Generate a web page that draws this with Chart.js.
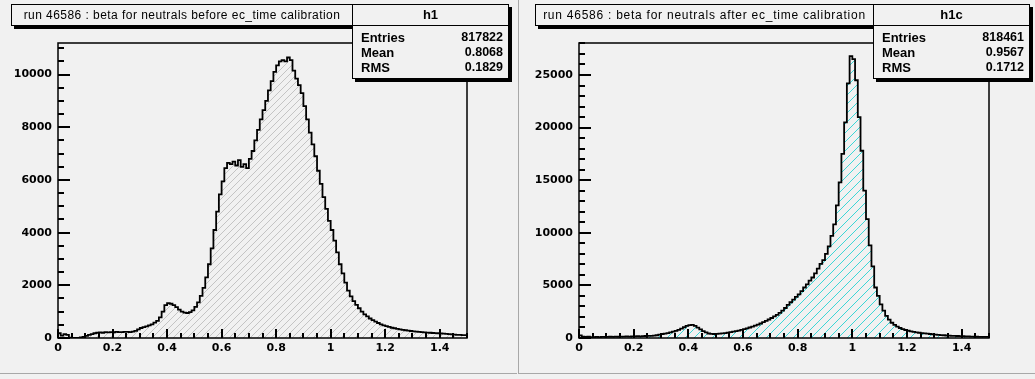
<!DOCTYPE html>
<html>
<head>
<meta charset="utf-8">
<script src="https://cdn.jsdelivr.net/npm/chart.js@4.4.1/dist/chart.umd.min.js"></script>
<style>
body { margin:0; background:#fff; }
#page { position:relative; width:1035px; height:379px; background:#f1f1f1; overflow:hidden; font-family:"Liberation Sans", Arial, sans-serif; }
.pad { position:absolute; top:0; height:373px; border-bottom:1px solid #a8a8a8; }
.pad canvas { position:absolute; left:0; top:0; }
.title { position:absolute; top:4px; height:20px; border:1px solid #000; background:#f1f1f1; box-shadow:3px 3px 0 #000; font-size:12px; letter-spacing:0.45px; line-height:20px; text-align:center; white-space:nowrap; }
.stats { position:absolute; top:4px; border:1px solid #000; background:#f1f1f1; box-shadow:3px 3px 0 #000; font-weight:bold; z-index:2; padding-bottom:3px; }
.stats .hd { height:20px; line-height:20px; font-size:13px; text-align:center; border-bottom:1px solid #000; margin-bottom:4px; }
.stats .row { height:15px; line-height:15px; padding:0 5px 0 8px; display:flex; justify-content:space-between; }
.stats .row span:first-child { font-size:13px; }
.stats .row span:last-child { font-size:12.5px; }
</style>
</head>
<body>
<div id="page">
  <div class="pad" id="padL" style="left:0;width:517px;">
    <canvas id="c1" width="517" height="379"></canvas>
    <div class="title" style="left:11px;width:340px;">run 46586 : beta for neutrals before ec_time calibration</div>
    <div class="stats" style="left:352px;width:155px;">
      <div class="hd">h1</div>
      <div class="row"><span>Entries</span><span>817822</span></div>
      <div class="row"><span>Mean</span><span>0.8068</span></div>
      <div class="row"><span>RMS</span><span>0.1829</span></div>
    </div>
  </div>
  <div class="pad" id="padR" style="left:518px;width:516px;border-left:1px solid #a8a8a8;">
    <canvas id="c2" width="516" height="379"></canvas>
    <div class="title" style="left:16px;width:337px;letter-spacing:0.75px;">run 46586 : beta for neutrals after ec_time calibration</div>
    <div class="stats" style="left:354px;width:155px;">
      <div class="hd">h1c</div>
      <div class="row"><span>Entries</span><span>818461</span></div>
      <div class="row"><span>Mean</span><span>0.9567</span></div>
      <div class="row"><span>RMS</span><span>0.1712</span></div>
    </div>
  </div>
</div>
<script>
// binning of both histograms: 150 bins of 0.01 from 0 to 1.5
var nBins = 150, xLow = 0, xHigh = 1.5;

// h1 : beta before ec_time calibration (counts per bin)
var before = [
  60, 180, 90, 150, 120,   10, 5, 0, 5, 20,
  40, 80, 120, 150, 180,   200, 210, 200, 220, 210,
  220, 215, 230, 225, 220,   230, 235, 225, 240, 270,
  330, 380, 410, 440, 480,   520, 580, 650, 780, 1000,
  1250, 1320, 1300, 1250, 1170,   1080, 1000, 960, 950, 980,
  1050, 1180, 1350, 1600, 1900,   2300, 2800, 3400, 4100, 4800,
  5450, 5950, 6450, 6650, 6600,   6700, 6550, 6750, 6500, 6600,
  6450, 6800, 7100, 7500, 7900,   8300, 8650, 9000, 9400, 9750,
  10100, 10350, 10500, 10550, 10500,   10650, 10550, 10150, 9850, 9600,
  9300, 8800, 8300, 7800, 7350,   6900, 6350, 5850, 5350, 4900,
  4450, 4100, 3700, 3250, 2800,   2450, 2100, 1800, 1580, 1400,
  1260, 1130, 1000, 900, 820,   740, 680, 620, 570, 520,
  480, 450, 420, 390, 370,   350, 330, 310, 295, 280,
  265, 255, 245, 235, 225,   215, 205, 200, 190, 185,
  180, 170, 165, 160, 150,   140, 130, 120, 115, 110
];

// h1c : beta after ec_time calibration
var after = [
  150, 250, 120, 100, 130,   90, 80, 100, 90, 110,
  100, 110, 120, 100, 130,   120, 140, 130, 150, 140,
  150, 160, 170, 160, 180,   190, 200, 210, 230, 260,
  330, 380, 420, 470, 530,   600, 680, 780, 900, 1020,
  1150, 1230, 1250, 1150, 980,   820, 660, 530, 430, 390,
  380, 390, 410, 440, 470,   510, 560, 600, 650, 710,
  770, 840, 920, 1000, 1080,   1170, 1270, 1380, 1500, 1620,
  1760, 1900, 2050, 2200, 2380,   2600, 2850, 3150, 3400, 3650,
  3900, 4150, 4450, 4800, 5100,   5450, 5750, 6150, 6600, 7050,
  7400, 8000, 8700, 9700, 10800,   12600, 14800, 17500, 20500, 24200,
  26800, 26500, 24500, 21000, 17800,   14000, 11300, 8800, 6800, 4800,
  4000, 3200, 2600, 2100, 1750,   1450, 1250, 1080, 950, 840,
  760, 690, 630, 580, 540,   500, 470, 440, 410, 380,
  350, 320, 300, 280, 260,   240, 225, 210, 200, 190,
  180, 170, 160, 150, 140,   130, 120, 110, 105, 100
];

var xTicks = [0, 0.2, 0.4, 0.6, 0.8, 1, 1.2, 1.4];
var xMinorStep = 0.05;
var yTicksBefore = [0, 2000, 4000, 6000, 8000, 10000];
var yTicksAfter = [0, 5000, 10000, 15000, 20000, 25000];
var yMaxBefore = 11200, yMaxAfter = 28040;
var yMinorBefore = 500, yMinorAfter = 1000;

function hatch(color, gap) {
  var c = document.createElement('canvas');
  c.width = gap; c.height = gap;
  var g = c.getContext('2d');
  g.strokeStyle = color;
  g.lineWidth = 1;
  g.beginPath();
  g.moveTo(-1, gap + 1); g.lineTo(gap + 1, -1);
  g.moveTo(-1, 1); g.lineTo(1, -1);
  g.moveTo(gap - 1, gap + 1); g.lineTo(gap + 1, gap - 1);
  g.stroke();
  return g.createPattern(c, 'repeat');
}

function histPoints(values) {
  var pts = [{x: xLow, y: 0}];
  var w = (xHigh - xLow) / nBins;
  values.forEach(function (v, i) { pts.push({x: xLow + i * w, y: v}); });
  pts.push({x: xHigh, y: values[values.length - 1]});
  pts.push({x: xHigh, y: 0});
  return pts;
}

// frame + ROOT style ticks pointing into the frame
function rootAxes(yTicks, yMinor) {
  return {
    id: 'rootAxes',
    afterDraw: function (chart) {
      var ctx = chart.ctx, a = chart.chartArea;
      var sx = chart.scales.x, sy = chart.scales.y;
      var L = Math.round(a.left), B = Math.round(a.bottom);
      var i, v, p, len;
      ctx.save();
      ctx.fillStyle = '#000';
      ctx.strokeStyle = '#000';
      ctx.lineWidth = 1.5;
      ctx.strokeRect(L, Math.round(a.top), Math.round(a.right) - L, B - Math.round(a.top));
      for (i = 0; i <= Math.round((xHigh - xLow) / xMinorStep); i++) {
        p = Math.round(sx.getPixelForValue(xLow + i * xMinorStep));
        len = (i % 4 === 0) ? 9 : 5;
        ctx.fillRect(p - 1, B - len, 2, len);
      }
      for (v = 0; v <= sy.max; v += yMinor) {
        p = Math.round(sy.getPixelForValue(v));
        len = yTicks.indexOf(v) >= 0 ? 12 : 6;
        ctx.fillRect(L, p - 1, len, 2);
      }
      ctx.restore();
    }
  };
}

function makeChart(id, values, fill, yMax, yTicks, yMinor, padL, padR) {
  return new Chart(document.getElementById(id), {
    type: 'line',
    data: {
      datasets: [{
        data: histPoints(values),
        stepped: 'after',
        borderColor: '#000',
        borderWidth: 1.8,
        pointRadius: 0,
        fill: 'origin',
        backgroundColor: fill
      }]
    },
    options: {
      responsive: false,
      animation: false,
      devicePixelRatio: 1,
      layout: { padding: { left: padL, top: 43, right: padR, bottom: 20 } },
      plugins: { legend: { display: false }, tooltip: { enabled: false } },
      scales: {
        x: {
          type: 'linear', min: xLow, max: xHigh,
          grid: { display: false, drawTicks: false },
          border: { display: false },
          afterFit: function (s) { s.height = 21; },
          afterBuildTicks: function (s) { s.ticks = xTicks.map(function (t) { return {value: t}; }); },
          ticks: { padding: 4, color: '#000', maxRotation: 0, autoSkip: false,
            font: { family: 'DejaVu Sans', size: 11, weight: 'bold' },
            callback: function (v) { return String(Math.round(v * 10) / 10); } }
        },
        y: {
          min: 0, max: yMax,
          grid: { display: false, drawTicks: false },
          border: { display: false },
          afterFit: function (s) { s.width = 52; },
          afterBuildTicks: function (s) { s.ticks = yTicks.map(function (t) { return {value: t}; }); },
          ticks: { padding: 6, color: '#000', font: { family: 'DejaVu Sans', size: 11, weight: 'bold' },
            callback: function (v) { return String(v); } }
        }
      }
    },
    plugins: [rootAxes(yTicks, yMinor)]
  });
}

makeChart('c1', before, hatch('#c4c4c4', 7), yMaxBefore, yTicksBefore, yMinorBefore, 6, 50);
makeChart('c2', after, hatch('#3cd6d6', 9), yMaxAfter, yTicksAfter, yMinorAfter, 8, 46);
</script>
</body>
</html>
